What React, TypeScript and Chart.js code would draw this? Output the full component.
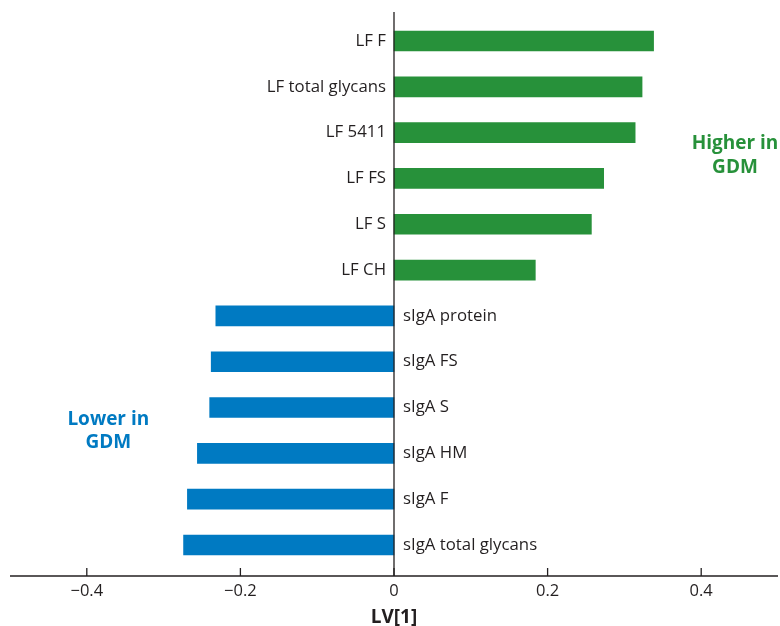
import React, { useEffect, useRef } from "react";
import { Chart, registerables } from "chart.js";

Chart.register(...registerables);

const categories = [
  "LF F",
  "LF total glycans",
  "LF 5411",
  "LF FS",
  "LF S",
  "LF CH",
  "sIgA protein",
  "sIgA FS",
  "sIgA S",
  "sIgA HM",
  "sIgA F",
  "sIgA total glycans",
];
const lvValues = [0.338, 0.323, 0.314, 0.273, 0.257, 0.184, -0.232, -0.238, -0.24, -0.256, -0.269, -0.274];
const xTicks = [-0.4, -0.2, 0, 0.2, 0.4];
const xTickLabels = ["\u22120.4", "\u22120.2", "0", "0.2", "0.4"];

const GREEN = "#27913a";
const BLUE = "#007ac2";
const INK = "#231f20";
const FONT = "'Open Sans', Lato, sans-serif";

const overlay = {
  id: "overlay",
  afterDatasetsDraw(chart: any) {
    const { ctx, chartArea, scales } = chart;
    const xs = scales.x;
    const ys = scales.y;
    const x0 = xs.getPixelForValue(0);
    ctx.save();
    ctx.strokeStyle = INK;
    ctx.lineWidth = 1.3;
    ctx.beginPath();
    ctx.moveTo(x0, chartArea.top);
    ctx.lineTo(x0, chartArea.bottom);
    ctx.stroke();
    ctx.beginPath();
    ctx.moveTo(chartArea.left, chartArea.bottom);
    ctx.lineTo(chartArea.right, chartArea.bottom);
    ctx.stroke();
    ctx.fillStyle = INK;
    ctx.font = `16.5px ${FONT}`;
    ctx.textAlign = "center";
    ctx.textBaseline = "middle";
    xTicks.forEach((t, i) => {
      const px = xs.getPixelForValue(t);
      ctx.beginPath();
      ctx.moveTo(px, chartArea.bottom - 8);
      ctx.lineTo(px, chartArea.bottom);
      ctx.stroke();
      ctx.fillText(xTickLabels[i], px, chartArea.bottom + 15);
    });
    ctx.font = `bold 19px ${FONT}`;
    ctx.fillText("LV[1]", x0, chartArea.bottom + 42);
    ctx.font = `16.8px ${FONT}`;
    categories.forEach((c, i) => {
      const py = ys.getPixelForValue(i);
      if (lvValues[i] >= 0) {
        ctx.textAlign = "right";
        ctx.fillText(c, x0 - 8, py);
      } else {
        ctx.textAlign = "left";
        ctx.fillText(c, x0 + 9, py);
      }
    });
    ctx.font = `bold 19px ${FONT}`;
    ctx.textAlign = "center";
    ctx.fillStyle = GREEN;
    const hx = xs.getPixelForValue(0.444);
    const hy = ys.getPixelForValue(2.23);
    ctx.fillText("Higher in", hx, hy);
    ctx.fillText("GDM", hx, hy + 24);
    ctx.fillStyle = BLUE;
    const lx = xs.getPixelForValue(-0.372);
    const ly = ys.getPixelForValue(8.27);
    ctx.fillText("Lower in", lx, ly);
    ctx.fillText("GDM", lx, ly + 23);
    ctx.restore();
  },
};

export default function App() {
  const ref = useRef<HTMLCanvasElement>(null);
  useEffect(() => {
    document.body.style.margin = "0";
    const chart = new Chart(ref.current as HTMLCanvasElement, {
      type: "bar",
      data: {
        datasets: [
          {
            data: lvValues.map((v, i) => ({ x: v, y: i })) as any,
            backgroundColor: lvValues.map((v) => (v >= 0 ? GREEN : BLUE)),
            barThickness: 20,
            borderWidth: 0,
          },
        ],
      },
      options: {
        indexAxis: "y",
        animation: false,
        responsive: true,
        maintainAspectRatio: false,
        layout: { padding: { left: 10, right: 2, top: 12, bottom: 50 } },
        scales: {
          x: { type: "linear", min: -0.5, max: 0.5, display: false, offset: false },
          y: { type: "linear", min: -0.633, max: 11.677, reverse: true, display: false, offset: false },
        },
        plugins: { legend: { display: false }, tooltip: { enabled: false } },
      },
      plugins: [overlay],
    });
    return () => chart.destroy();
  }, []);
  return (
    <div style={{ position: "fixed", left: 0, top: 0, width: 780, height: 626, background: "#fff" }}>
      <canvas ref={ref} />
    </div>
  );
}
